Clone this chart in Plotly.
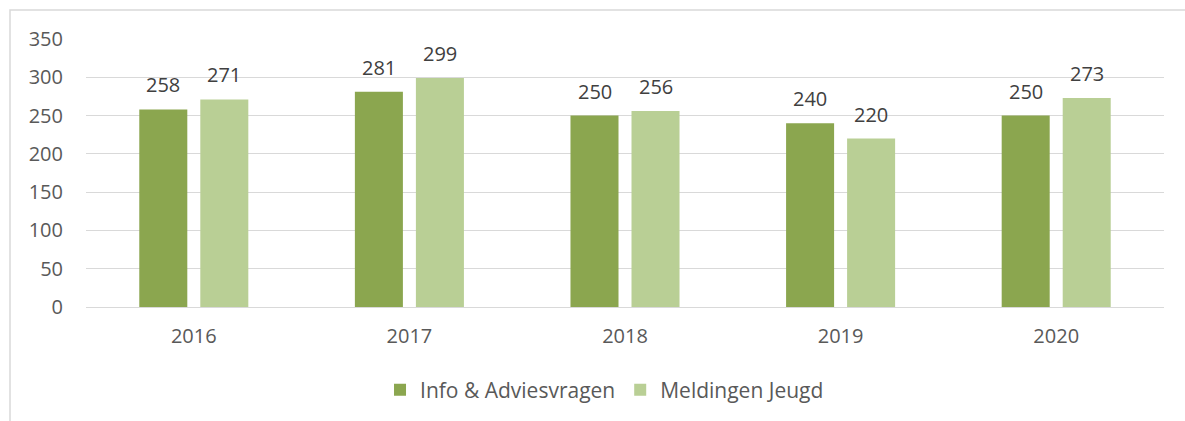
import plotly.graph_objects as go

years = ["2016", "2017", "2018", "2019", "2020"]
info_advies = [258, 281, 250, 240, 250]
meldingen_jeugd = [271, 299, 256, 220, 273]
y_ticks = [0, 50, 100, 150, 200, 250, 300, 350]

dark_green = "#8BA64F"
light_green = "#B9CF95"
font_family = "Open Sans, Liberation Sans, Arial"
tick_color = "#595959"
label_color = "#404040"

xpos = list(range(len(years)))

fig = go.Figure()
fig.add_trace(go.Bar(name="Info & Adviesvragen", x=xpos, y=info_advies,
                     marker=dict(color=dark_green, line=dict(width=0))))
fig.add_trace(go.Bar(name="Meldingen Jeugd", x=xpos, y=meldingen_jeugd,
                     marker=dict(color=light_green, line=dict(width=0))))

annotations = []
for series, shift in ((info_advies, -30.5), (meldingen_jeugd, 30.5)):
    for xi, v in zip(xpos, series):
        annotations.append(dict(x=xi, y=v, xref="x", yref="y", text=str(v),
                                showarrow=False, xshift=shift, yshift=9,
                                yanchor="bottom",
                                font=dict(family=font_family, size=20, color=label_color)))

fig.update_layout(
    width=1185, height=421,
    margin=dict(l=86, r=21, t=39, b=114, autoexpand=False),
    paper_bgcolor="white", plot_bgcolor="white",
    barmode="group", bargap=0.434, bargroupgap=0.213,
    font=dict(family=font_family, size=20, color=tick_color),
    showlegend=True,
    legend=dict(orientation="h", x=0.481, xanchor="center", y=-0.31, yanchor="middle",
                font=dict(family=font_family, size=21, color=tick_color),
                traceorder="normal", itemwidth=30),
    annotations=annotations,
    shapes=[dict(type="rect", xref="paper", yref="paper",
                 x0=-0.0705, x1=1.05, y0=-0.5, y1=1.108,
                 line=dict(color="#D9D9D9", width=1.5), fillcolor="rgba(0,0,0,0)",
                 layer="below")],
)
fig.update_yaxes(range=[0, 350], tickvals=y_ticks, showgrid=True, gridcolor="#D9D9D9",
                 gridwidth=1, zeroline=False, showline=False, automargin=False,
                 ticklabelstandoff=22, tickfont=dict(size=20, color=tick_color))
fig.update_xaxes(range=[-0.5, len(years) - 0.5], tickvals=xpos, ticktext=years,
                 showline=True, linecolor="#D9D9D9", linewidth=1,
                 showgrid=False, zeroline=False, automargin=False,
                 ticks="", ticklabelstandoff=11, tickfont=dict(size=20, color=tick_color))

fig.write_html("out.html", config={"displayModeBar": False},
               post_script="document.body.style.margin='0';")
